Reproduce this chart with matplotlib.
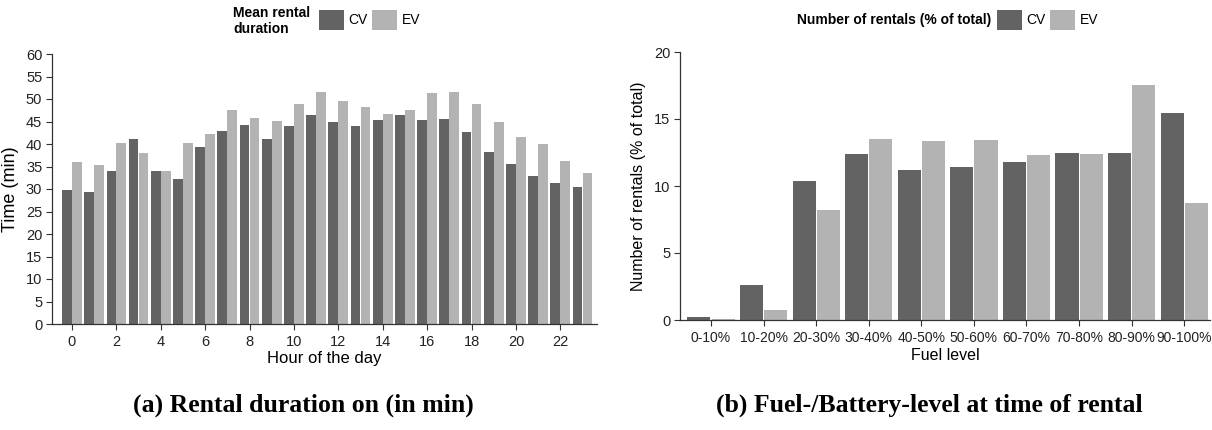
import matplotlib
matplotlib.use("Agg")
import matplotlib.pyplot as plt
import numpy as np

plt.rcParams["font.family"] = ["Liberation Sans", "DejaVu Sans"]

# (a) mean rental duration by hour of day, minutes
hours = np.arange(24)
dur_cv = [29.8, 29.3, 34.1, 41.1, 33.9, 32.2, 39.3, 43.0, 44.2, 41.2, 44.0, 46.5,
          45.0, 44.0, 45.3, 46.5, 45.3, 45.5, 42.6, 38.3, 35.5, 33.0, 31.4, 30.5]
dur_ev = [35.9, 35.3, 40.3, 38.1, 34.1, 40.3, 42.2, 47.6, 45.7, 45.1, 49.0, 51.5,
          49.6, 48.2, 46.7, 47.6, 51.3, 51.5, 49.0, 44.9, 41.6, 39.9, 36.2, 33.5]

# (b) share of rentals by fuel / battery level, % of total
levels = ["0-10%", "10-20%", "20-30%", "30-40%", "40-50%", "50-60%",
          "60-70%", "70-80%", "80-90%", "90-100%"]
share_cv = [0.25, 2.63, 10.35, 12.41, 11.20, 11.39, 11.77, 12.49, 12.49, 15.44]
share_ev = [0.05, 0.72, 8.19, 13.50, 13.38, 13.43, 12.29, 12.41, 17.57, 8.76]

c_cv, c_ev = "#636363", "#b3b3b3"
axis_col = "#333333"

fig = plt.figure(figsize=(12.12, 4.30), dpi=100)
ax1 = fig.add_axes([52/1212, 1 - 324/430, 545/1212, 270/430])
ax2 = fig.add_axes([680/1212, 1 - 320/430, 530/1212, 268/430])


def style(ax, yticks, tsize):
    for s in ["top", "right"]:
        ax.spines[s].set_visible(False)
    for s in ["left", "bottom"]:
        ax.spines[s].set_color(axis_col)
        ax.spines[s].set_linewidth(0.9)
    ax.spines["left"].set_bounds(yticks[0], yticks[-1])
    ax.set_yticks(yticks)
    ax.tick_params(direction="out", length=4, width=0.8, color=axis_col,
                   labelsize=tsize, labelcolor="#222222", pad=3)
    ax.tick_params(axis="x", pad=4)


# ---- (a)
w = 0.44
b1 = ax1.bar(hours - w/2 - 0.005, dur_cv, w, color=c_cv, label="CV")
b2 = ax1.bar(hours + w/2 + 0.005, dur_ev, w, color=c_ev, label="EV")
ax1.set_xlim(-0.9, 23.65)
ax1.set_ylim(0, 60)
style(ax1, np.arange(0, 61, 5), 10.5)
ax1.set_xticks(np.arange(0, 23, 2))
ax1.set_xlabel("Hour of the day", fontsize=12)
ax1.xaxis.set_label_coords(0.5, -0.1)
ax1.set_ylabel("Time (min)", fontsize=13)
ax1.yaxis.set_label_coords(-0.06, 0.5)

# ---- (b)
x2 = np.arange(len(levels))
w2 = 0.44
ax2.bar(x2 - w2/2 - 0.01, share_cv, w2, color=c_cv, label="CV")
ax2.bar(x2 + w2/2 + 0.01, share_ev, w2, color=c_ev, label="EV")
ax2.set_xlim(-0.59, 9.49)
ax2.set_ylim(0, 20)
style(ax2, np.arange(0, 21, 5), 10.5)
ax2.set_xticks(x2)
ax2.set_xticklabels(levels)
ax2.tick_params(axis="x", labelsize=10)
ax2.set_xlabel("Fuel level", fontsize=11.5)
ax2.xaxis.set_label_coords(0.5, -0.105)
ax2.set_ylabel("Number of rentals (% of total)", fontsize=11.5)
ax2.yaxis.set_label_coords(-0.065, 0.5)

# ---- legends on top
leg_kw = dict(ncol=2, frameon=False, fontsize=10, handlelength=1.8, handleheight=1.8,
              handletextpad=0.3, columnspacing=0.35, borderpad=0, borderaxespad=0,
              loc="center left")
fig.text(233/1212, 1 - 21/430, "Mean rental\nduration", fontsize=10, fontweight="bold",
         ha="left", va="center", linespacing=1.1)
fig.legend(handles=[b1, b2], bbox_to_anchor=(319/1212, 1 - 20/430), **leg_kw)

h_cv, h_ev = ax2.containers
fig.text(991/1212, 1 - 20/430, "Number of rentals (% of total)", fontsize=10,
         fontweight="bold", ha="right", va="center")
fig.legend(handles=[h_cv, h_ev], bbox_to_anchor=(997/1212, 1 - 20/430), **leg_kw)

# ---- captions
cap = dict(fontsize=18.5, fontweight="bold", family="Liberation Serif", ha="center", va="center")
fig.text(303/1212, 1 - 405/430, "(a) Rental duration on (in min)", **cap)
fig.text(929/1212, 1 - 405/430, "(b) Fuel-/Battery-level at time of rental", **cap)

fig.savefig("out.png", dpi=100)
